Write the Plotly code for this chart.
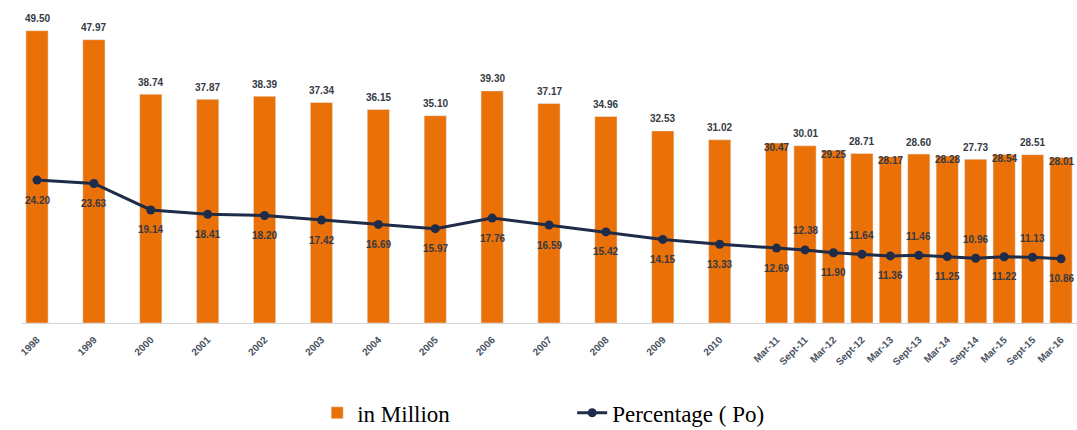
import plotly.graph_objects as go

categories = ["1998", "1999", "2000", "2001", "2002", "2003", "2004", "2005", "2006",
              "2007", "2008", "2009", "2010", "Mar-11", "Sept-11", "Mar-12", "Sept-12",
              "Mar-13", "Sept-13", "Mar-14", "Sept-14", "Mar-15", "Sept-15", "Mar-16"]
in_million = [49.50, 47.97, 38.74, 37.87, 38.39, 37.34, 36.15, 35.10, 39.30,
              37.17, 34.96, 32.53, 31.02, 30.47, 30.01, 29.25, 28.71,
              28.17, 28.60, 28.28, 27.73, 28.54, 28.51, 28.01]
percentage_po = [24.20, 23.63, 19.14, 18.41, 18.20, 17.42, 16.69, 15.97, 17.76,
                 16.59, 15.42, 14.15, 13.33, 12.69, 12.38, 11.90, 11.64,
                 11.36, 11.46, 11.25, 10.96, 11.22, 11.13, 10.86]


def cat_pos(c):
    # years sit one unit apart; half-yearly surveys half a unit apart
    if c.startswith("Mar-"):
        return 2000 + int(c.split("-")[1])
    if c.startswith("Sept-"):
        return 2000 + int(c.split("-")[1]) + 0.5
    return int(c)


xs = [cat_pos(c) for c in categories]

BAR = "#EA7008"
LINE = "#1E2C4A"
LBL = "#353a44"

fig = go.Figure()
fig.add_trace(go.Bar(x=xs, y=in_million, name="in Million", marker_color=BAR,
                     width=0.39, hoverinfo="x+y"))
fig.add_trace(go.Scatter(x=xs, y=percentage_po, name="Percentage ( Po)",
                         mode="lines+markers",
                         line=dict(color=LINE, width=3),
                         marker=dict(color=LINE, size=9, symbol="circle")))

ann = []
for c, x, v in zip(categories, xs, in_million):
    ann.append(dict(x=x, y=v, xref="x", yref="y", text="<b>%.2f</b>" % v,
                    showarrow=False, yshift=(-4 if c.startswith("Mar") else 12),
                    font=dict(family="Liberation Sans", size=10, color=LBL)))
for c, x, v in zip(categories, xs, percentage_po):
    ann.append(dict(x=x, y=v, xref="x", yref="y", text="<b>%.2f</b>" % v,
                    showarrow=False, yshift=(19 if c.startswith("Sept") else -20),
                    font=dict(family="Liberation Sans", size=10, color=LBL)))

fig.update_layout(
    width=1077, height=430,
    margin=dict(l=22, r=0, t=10, b=107),
    paper_bgcolor="white", plot_bgcolor="white",
    showlegend=True,
    legend=dict(orientation="h", xref="container", yref="container",
                x=0.2945, xanchor="left", y=0.04, yanchor="middle",
                font=dict(family="Liberation Serif", size=23, color="black"),
                entrywidth=210, itemwidth=30),
    annotations=ann,
    xaxis=dict(range=[1997.736, 2016.281], tickvals=xs, ticktext=categories,
               tickangle=-45, showgrid=False, zeroline=False,
               showline=True, linecolor="#d4d4d4", linewidth=1, ticks="",
               ticklabelstandoff=6,
               tickfont=dict(family="Liberation Sans", size=10, color="#4a5262",
                             weight="bold")),
    yaxis=dict(range=[0, 53], visible=False, showgrid=False, zeroline=False),
)

fig.write_html("out.html")
